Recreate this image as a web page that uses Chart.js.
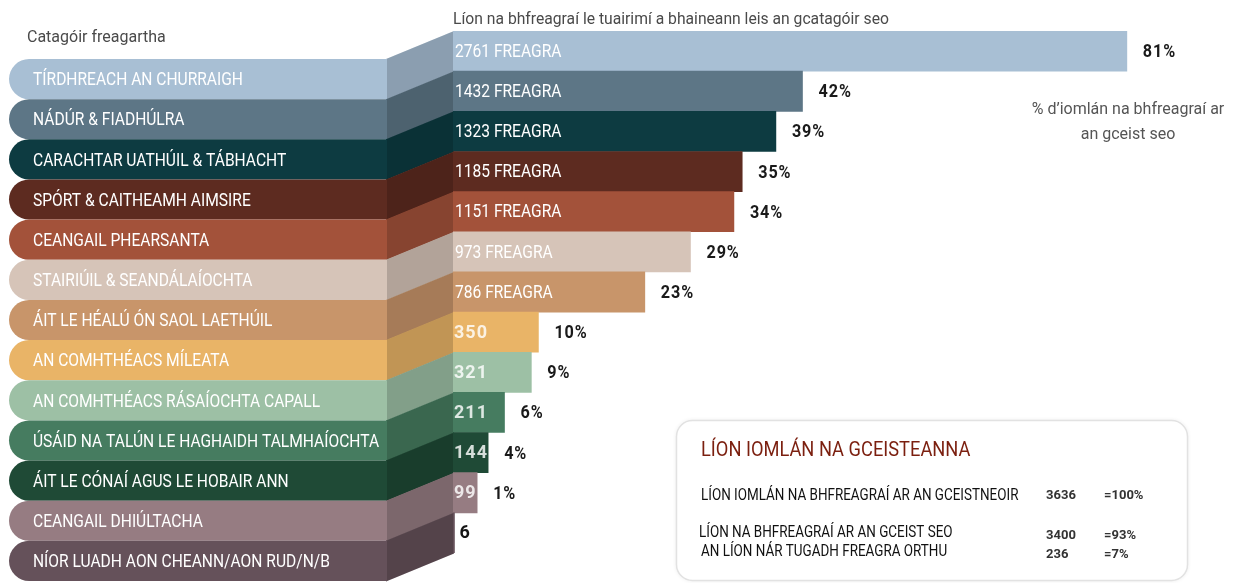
<!DOCTYPE html>
<html>
<head>
<meta charset="utf-8">
<script src="https://cdn.jsdelivr.net/npm/chart.js@4.4.1/dist/chart.umd.min.js"></script>
<style>
html,body{margin:0;padding:0;background:#fff;}
canvas{display:block;}
</style>
</head>
<body>
<canvas id="c" width="1243" height="583"></canvas>
<script>
// ---- data ----
const categories = [
  'TÍRDHREACH AN CHURRAIGH',
  'NÁDÚR & FIADHÚLRA',
  'CARACHTAR UATHÚIL & TÁBHACHT',
  'SPÓRT & CAITHEAMH AIMSIRE',
  'CEANGAIL PHEARSANTA',
  'STAIRIÚIL & SEANDÁLAÍOCHTA',
  'ÁIT LE HÉALÚ ÓN SAOL LAETHÚIL',
  'AN COMHTHÉACS MÍLEATA',
  'AN COMHTHÉACS RÁSAÍOCHTA CAPALL',
  'ÚSÁID NA TALÚN LE HAGHAIDH TALMHAÍOCHTA',
  'ÁIT LE CÓNAÍ AGUS LE HOBAIR ANN',
  'CEANGAIL DHIÚLTACHA',
  'NÍOR LUADH AON CHEANN/AON RUD/N/B'
];
const responses = [2761, 1432, 1323, 1185, 1151, 973, 786, 350, 321, 211, 144, 99, 6];
const percentLabels = ['81%', '42%', '39%', '35%', '34%', '29%', '23%', '10%', '9%', '6%', '4%', '1%', ''];
const summaryTitle = 'LÍON IOMLÁN NA GCEISTEANNA';
const summaryLabels = ['LÍON IOMLÁN NA BHFREAGRAÍ AR AN GCEISTNEOIR', 'LÍON NA BHFREAGRAÍ AR AN GCEIST SEO', 'AN LÍON NÁR TUGADH FREAGRA ORTHU'];
const summaryValues = [3636, 3400, 236];
const summaryPercents = ['=100%', '=93%', '=7%'];
const leftTitle = 'Catagóir freagartha';
const barTitle = 'Líon na bhfreagraí le tuairimí a bhaineann leis an gcatagóir seo';
const pctTitle = ['% d\u2019iomlán na bhfreagraí ar', 'an gceist seo'];

// ---- styles ----
const palette = ['#a8bfd4', '#5d7686', '#0d3b41', '#5d2b20', '#a3523a', '#d6c4b8', '#c8956a',
  '#e9b467', '#9dc0a5', '#467c60', '#1f4a36', '#967c82', '#65515a'];

function txt(ctx, s, x, y, o) {
  ctx.save();
  ctx.font = (o.weight || 'normal') + ' ' + o.size + 'px ' + (o.family || 'Roboto');
  ctx.fillStyle = o.color;
  ctx.textBaseline = o.baseline || 'middle';
  ctx.textAlign = o.align || 'left';
  if (o.spacing) ctx.letterSpacing = o.spacing;
  ctx.translate(x, y);
  ctx.scale(o.sx || 1, 1);
  ctx.fillText(s, 0, 0);
  ctx.restore();
}

const staircase = {
  id: 'staircase',
  beforeDatasetsDraw(chart) {
    const ctx = chart.ctx;
    const meta = chart.getDatasetMeta(0);
    const base = chart.scales.x.getPixelForValue(0);
    const pillLeft = 9, pillRight = 387, drop = 28;
    meta.data.forEach((bar, i) => {
      const p = bar.getProps(['y', 'height'], true);
      const top = p.y - p.height / 2, bot = p.y + p.height / 2;
      const pTop = top + drop, pBot = bot + drop;
      const r = p.height / 2;
      ctx.save();
      // connector
      ctx.beginPath();
      ctx.moveTo(pillRight - 1, pTop);
      ctx.lineTo(base + 1, top);
      ctx.lineTo(base + 1, bot + 0.6);
      ctx.lineTo(pillRight - 1, pBot + 0.6);
      ctx.closePath();
      ctx.fillStyle = palette[i];
      ctx.fill();
      ctx.fillStyle = 'rgba(0,0,0,0.17)';
      ctx.fill();
      // pill
      ctx.beginPath();
      ctx.moveTo(pillRight, pTop);
      ctx.lineTo(pillLeft + r, pTop);
      ctx.arc(pillLeft + r, pTop + r, r, -Math.PI / 2, Math.PI / 2, true);
      ctx.lineTo(pillRight, pBot);
      ctx.closePath();
      ctx.fillStyle = palette[i];
      ctx.fill();
      ctx.restore();
      txt(ctx, categories[i], 33, pTop + r + 1.5, { size: 19, color: '#ffffff', sx: 0.82 });
    });
  },
  afterDatasetsDraw(chart) {
    const ctx = chart.ctx;
    const meta = chart.getDatasetMeta(0);
    meta.data.forEach((bar, i) => {
      const p = bar.getProps(['x', 'y', 'base'], true);
      const v = responses[i];
      const y = p.y + 1;
      if (v >= 500) {
        txt(ctx, v + ' FREAGRA', p.base + 2, y, { size: 19, color: '#ffffff', sx: 0.82 });
      } else if (v >= 50) {
        txt(ctx, String(v), p.base + 1, y, { size: 18, weight: 'bold', color: 'rgba(255,255,255,0.82)', spacing: '1px' });
      } else {
        txt(ctx, String(v), p.x + 5, y, { size: 18, weight: 'bold', color: '#151515' });
      }
      if (percentLabels[i]) {
        txt(ctx, percentLabels[i], p.x + 16, y + 0.5, { size: 18, weight: 'bold', color: '#1a1a1a', spacing: '1px', sx: 0.9 });
      }
    });
  },
  afterDraw(chart) {
    const ctx = chart.ctx;
    txt(ctx, leftTitle, 27, 38, { size: 16, color: '#4a4a4a' });
    txt(ctx, barTitle, 453, 20, { size: 16, color: '#4a4a4a', sx: 0.98 });
    txt(ctx, pctTitle[0], 1128, 110, { size: 16, color: '#555555', align: 'center' });
    txt(ctx, pctTitle[1], 1128, 135, { size: 16, color: '#555555', align: 'center' });
    // summary box
    ctx.save();
    ctx.shadowColor = 'rgba(0,0,0,0.10)';
    ctx.shadowBlur = 4;
    ctx.beginPath();
    ctx.roundRect(676.5, 420.5, 511, 160, 16);
    ctx.fillStyle = '#ffffff';
    ctx.fill();
    ctx.shadowColor = 'transparent';
    ctx.strokeStyle = '#e2e2e2';
    ctx.lineWidth = 1.5;
    ctx.stroke();
    ctx.restore();
    txt(ctx, summaryTitle, 701, 451, { size: 21, color: '#7b1f0f', sx: 0.87 });
    const rowY = [496, 533, 552];
    const valY = [496, 536, 555];
    summaryLabels.forEach((s, i) => {
      txt(ctx, s, i === 1 ? 699 : 701, rowY[i], { size: 16, color: '#111111', sx: 0.84 });
      txt(ctx, String(summaryValues[i]), 1046, valY[i], { size: 13, weight: 'bold', color: '#333333' });
      txt(ctx, summaryPercents[i], 1104, valY[i], { size: 13, weight: 'bold', color: '#333333' });
    });
  }
};

new Chart(document.getElementById('c'), {
  type: 'bar',
  data: {
    labels: categories,
    datasets: [{
      data: responses,
      backgroundColor: palette,
      borderWidth: 0,
      barPercentage: 1,
      categoryPercentage: 1
    }]
  },
  options: {
    indexAxis: 'y',
    responsive: false,
    animation: false,
    devicePixelRatio: 1,
    layout: { padding: { left: 453, right: 9, top: 31, bottom: 30 } },
    plugins: { legend: { display: false }, tooltip: { enabled: false } },
    scales: {
      x: { display: false, min: 0, max: 3200 },
      y: { display: false }
    }
  },
  plugins: [staircase]
});
</script>
</body>
</html>
